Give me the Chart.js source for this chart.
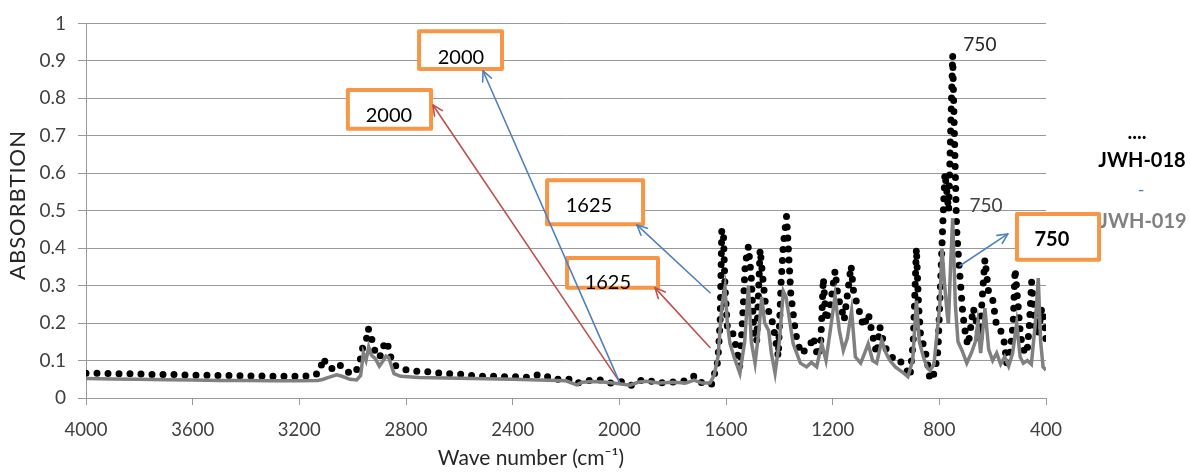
<!DOCTYPE html>
<html><head><meta charset="utf-8">
<script src="https://cdn.jsdelivr.net/npm/chart.js@4/dist/chart.umd.min.js"></script>
<style>html,body{margin:0;padding:0;background:#fff;}canvas{display:block}</style>
</head><body>
<canvas id="c" width="1190" height="473"></canvas>
<script>
// ---- data ----
const seriesNames = ['JWH-018', 'JWH-019'];
const wn018 = [4000,3950,3900,3850,3800,3750,3700,3650,3600,3550,3500,3450,3400,3350,3300,3250,3200,3150,3125,3110,3095,3070,3050,3025,2990,2972,2962,2950,2942,2932,2922,2905,2890,2880,2868,2850,2820,2780,2720,2690,2647,2600,2556,2511,2467,2430,2385,2354,2324,2286,2249,2212,2181,2160,2141,2104,2066,2035,2010,1986,1954,1930,1892,1860,1817,1785,1750,1716,1690,1679,1654,1641,1635,1628,1622,1616,1610,1604,1595,1579,1565,1555,1548,1535,1528,1516,1505,1495,1485,1472,1462,1452,1441,1430,1418,1404,1393,1385,1373,1365,1357,1348,1341,1333,1317,1298,1285,1273,1262,1254,1245,1235,1225,1210,1191,1180,1165,1157,1131,1122,1112,1095,1085,1066,1054,1035,1023,1005,985,970,948,922,910,898,886,878,870,861,848,835,825,817,805,798,791,785,779,772,765,758,750,745,740,735,728,720,712,700,692,680,673,660,648,640,629,615,599,585,570,555,548,535,523,516,505,495,480,471,462,454,440,430,416,405,400];
const abs018 = [.066,.066,.065,.065,.064,.063,.063,.062,.061,.061,.060,.060,.059,.059,.058,.058,.058,.059,.068,.107,.083,.077,.090,.070,.066,.100,.136,.150,.186,.170,.135,.108,.117,.152,.140,.090,.079,.072,.070,.067,.065,.064,.060,.058,.058,.057,.057,.054,.060,.063,.050,.050,.050,.039,.043,.048,.048,.040,.039,.045,.034,.046,.049,.039,.043,.043,.046,.060,.040,.035,.037,.070,.074,.127,.207,.445,.450,.300,.190,.185,.145,.110,.083,.250,.357,.405,.320,.163,.150,.397,.320,.250,.233,.216,.172,.110,.313,.410,.485,.384,.278,.225,.185,.150,.118,.132,.140,.164,.127,.110,.145,.320,.207,.240,.340,.270,.233,.207,.353,.287,.260,.220,.190,.225,.180,.118,.190,.136,.120,.100,.100,.074,.057,.150,.400,.250,.163,.145,.110,.048,.057,.070,.127,.260,.390,.500,.600,.550,.500,.700,.915,.750,.600,.450,.375,.300,.225,.160,.140,.200,.240,.200,.154,.260,.370,.280,.260,.190,.180,.145,.093,.120,.200,.344,.250,.163,.120,.120,.200,.310,.190,.170,.240,.200,.150];
const wn019 = [4000,3900,3800,3700,3600,3500,3400,3300,3200,3130,3110,3090,3060,3040,3010,2985,2970,2960,2950,2940,2930,2915,2900,2885,2875,2865,2845,2820,2750,2600,2400,2300,2200,2160,2140,2100,2050,2000,1960,1930,1900,1850,1800,1750,1720,1690,1660,1645,1630,1615,1604,1595,1585,1570,1548,1530,1516,1505,1491,1478,1466,1455,1440,1430,1416,1400,1385,1375,1360,1348,1321,1298,1280,1260,1241,1225,1205,1191,1175,1160,1145,1129,1115,1095,1080,1067,1050,1035,1016,1000,985,965,940,918,900,886,875,860,845,835,820,810,798,790,780,770,766,758,750,740,730,715,697,680,665,656,645,629,615,600,585,570,555,540,525,510,497,485,470,455,440,429,420,411,400];
const abs019 = [.052,.051,.050,.049,.048,.047,.047,.046,.046,.047,.050,.055,.062,.058,.050,.048,.060,.120,.100,.136,.115,.105,.085,.100,.112,.108,.065,.058,.055,.053,.050,.048,.046,.035,.042,.044,.042,.038,.034,.042,.045,.040,.042,.040,.048,.040,.040,.060,.110,.250,.295,.200,.145,.110,.066,.150,.300,.150,.093,.170,.270,.200,.180,.120,.066,.150,.285,.270,.200,.145,.093,.083,.095,.083,.145,.100,.200,.273,.180,.127,.160,.233,.110,.093,.120,.145,.100,.093,.154,.120,.100,.083,.070,.057,.100,.260,.150,.110,.080,.074,.090,.163,.250,.400,.300,.220,.198,.350,.480,.250,.150,.127,.093,.120,.150,.200,.120,.240,.130,.100,.120,.090,.110,.085,.120,.200,.110,.093,.100,.090,.200,.320,.150,.083,.075];
const xTicks = [4000,3600,3200,2800,2400,2000,1600,1200,800,400];
const yTicks = [0,0.1,0.2,0.3,0.4,0.5,0.6,0.7,0.8,0.9,1];
const yTickLabels = ['0','0.1','0.2','0.3','0.4','0.5','0.6','0.7','0.8','0.9','1'];
const xTitle = 'Wave number (cm\u207B\u00B9)';
const yTitle = 'ABSORBTION';

// ---- annotations (in data units) ----
const boxText = ['2000','2000','1625','1625','750'];
const boxWnL = [2751,3018,2271,2196,509];
const boxWnR = [2440,2706,1911,1855,201];
const boxAbsB = [0.878,0.719,0.464,0.294,0.369];
const boxAbsT = [0.979,0.822,0.581,0.374,0.491];
const boxTextWn = [2594,2864,2114,2043,378];
const boxTextAbs = [0.910,0.753,0.515,0.308,0.424];
const boxBold = [false,false,false,false,true];
const arrowFromWn = [2001,2001,1660,1660,723];
const arrowFromAbs = [0.045,0.045,0.281,0.135,0.353];
const arrowToWn = [2699,2511,1934,1866,543];
const arrowToAbs = [0.782,0.873,0.462,0.294,0.438];
const arrowKind = ['red','blue','blue','red','blue'];
const peakText = ['750','750'];
const peakWn = [648,625];
const peakAbs = [0.944,0.512];

const FONT = 'Lato, "Open Sans", sans-serif';
const colors = {red:'#C0504D', blue:'#4F81BD', orange:'#F79646'};

function drawArrow(ctx, x1, y1, x2, y2, color) {
  ctx.save();
  ctx.strokeStyle = color; ctx.lineWidth = 1.6; ctx.lineCap = 'round';
  ctx.beginPath(); ctx.moveTo(x1, y1); ctx.lineTo(x2, y2); ctx.stroke();
  const a = Math.atan2(y2 - y1, x2 - x1), L = 11, w = 0.45;
  ctx.beginPath();
  ctx.moveTo(x2 - L * Math.cos(a - w), y2 - L * Math.sin(a - w));
  ctx.lineTo(x2, y2);
  ctx.lineTo(x2 - L * Math.cos(a + w), y2 - L * Math.sin(a + w));
  ctx.stroke();
  ctx.restore();
}

const overlay = {
  id: 'overlay',
  afterDraw(chart) {
    const {ctx, chartArea, scales: {x, y}} = chart;
    ctx.save();
    // axis titles
    ctx.fillStyle = '#262626'; ctx.textAlign = 'center'; ctx.textBaseline = 'middle';
    ctx.font = '21px ' + FONT;
    ctx.fillText(xTitle, chartArea.left + 445, 458);
    ctx.save();
    ctx.translate(18, 205); ctx.rotate(-Math.PI / 2);
    ctx.font = '22px ' + FONT;
    if ('letterSpacing' in ctx) ctx.letterSpacing = '1px';
    ctx.fillText(yTitle, 0, 0);
    ctx.restore();
    // legend
    const lx = chartArea.right;
    ctx.fillStyle = '#000'; ctx.font = 'bold 20px ' + FONT;
    ctx.fillText('....', lx + 91, 133);
    ctx.fillText(seriesNames[0], lx + 96, 161);
    ctx.fillStyle = colors.blue; ctx.font = '18px ' + FONT;
    ctx.fillText('-', lx + 95, 190);
    ctx.fillStyle = '#808080'; ctx.font = 'bold 20px ' + FONT;
    ctx.fillText(seriesNames[1], lx + 97, 222);
    // peak labels
    ctx.font = '19px ' + FONT;
    peakText.forEach((t, i) => {
      ctx.fillStyle = i === 0 ? '#262626' : '#404040';
      ctx.fillText(t, x.getPixelForValue(peakWn[i]), y.getPixelForValue(peakAbs[i]));
    });
    // boxes
    boxText.forEach((t, i) => {
      const x1 = x.getPixelForValue(boxWnL[i]), x2 = x.getPixelForValue(boxWnR[i]);
      const y1 = y.getPixelForValue(boxAbsT[i]), y2 = y.getPixelForValue(boxAbsB[i]);
      ctx.fillStyle = '#fff'; ctx.fillRect(x1, y1, x2 - x1, y2 - y1);
      ctx.strokeStyle = colors.orange; ctx.lineWidth = 4; ctx.lineJoin = 'round';
      ctx.strokeRect(x1, y1, x2 - x1, y2 - y1);
      ctx.fillStyle = '#000'; ctx.font = (boxBold[i] ? 'bold ' : '') + '20px ' + FONT;
      ctx.fillText(t, x.getPixelForValue(boxTextWn[i]), y.getPixelForValue(boxTextAbs[i]));
    });
    // arrows
    arrowKind.forEach((k, i) => {
      drawArrow(ctx, x.getPixelForValue(arrowFromWn[i]), y.getPixelForValue(arrowFromAbs[i]),
        x.getPixelForValue(arrowToWn[i]), y.getPixelForValue(arrowToAbs[i]), colors[k]);
    });
    ctx.restore();
  }
};

new Chart(document.getElementById('c'), {
  type: 'line',
  data: {
    datasets: [
      { label: seriesNames[1], data: wn019.map((w, i) => ({x: w, y: abs019[i]})),
        borderColor: '#808080', borderWidth: 3.5, pointRadius: 0, tension: 0, fill: false, order: 0 },
      { label: seriesNames[0], data: wn018.map((w, i) => ({x: w, y: abs018[i]})),
        borderColor: '#000', borderWidth: 7, borderDash: [0, 11], borderCapStyle: 'round', borderJoinStyle: 'round',
        pointRadius: 0, tension: 0, fill: false, order: 1 }
    ]
  },
  options: {
    responsive: false, animation: false, devicePixelRatio: 1,
    layout: { padding: { top: 21, right: 144, left: 0, bottom: 0 } },
    plugins: { legend: { display: false }, tooltip: { enabled: false } },
    scales: {
      x: {
        type: 'linear', reverse: true, min: 400, max: 4000,
        afterFit(s) { s.height = 75; },
        afterBuildTicks(s) { s.ticks = xTicks.map(v => ({value: v})); },
        ticks: { autoSkip: false, maxRotation: 0, padding: 14, color: '#404040',
          font: { family: FONT, size: 18.5 }, callback: v => String(v) },
        grid: { drawOnChartArea: false, drawTicks: true, tickLength: 7, color: '#999' },
        border: { color: '#999' },
        title: { display: false }
      },
      y: {
        min: 0, max: 1,
        afterFit(s) { s.width = 86; },
        afterBuildTicks(s) { s.ticks = yTicks.map(v => ({value: v})); },
        ticks: { padding: 12, color: '#404040', font: { family: FONT, size: 19 },
          callback: v => yTickLabels[yTicks.indexOf(v)] },
        grid: { color: '#999', tickLength: 8, drawTicks: true },
        border: { color: '#999' },
        title: { display: false }
      }
    }
  },
  plugins: [overlay]
});
</script>
</body></html>
